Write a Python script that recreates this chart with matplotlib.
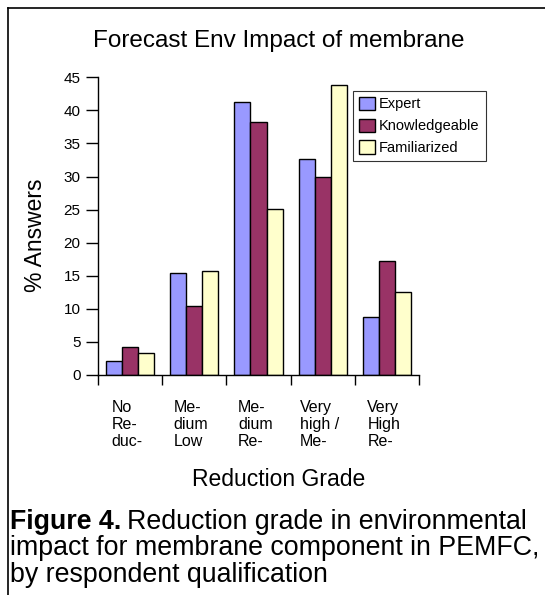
import matplotlib
matplotlib.use("Agg")
import matplotlib.pyplot as plt
import numpy as np
from matplotlib.lines import Line2D

plt.rcParams['font.family'] = ['Liberation Sans', 'DejaVu Sans']

categories = ["No\nRe-\nduc-", "Me-\ndium\nLow", "Me-\ndium\nRe-", "Very\nhigh /\nMe-", "Very\nHigh\nRe-"]
series_names = ["Expert", "Knowledgeable", "Familiarized"]
expert = [2.1, 15.4, 41.3, 32.6, 8.7]
knowledgeable = [4.3, 10.5, 38.3, 29.9, 17.2]
familiarized = [3.3, 15.7, 25.1, 43.8, 12.6]
colors = ["#9999FF", "#993366", "#FFFFCC"]
yticks = [0, 5, 10, 15, 20, 25, 30, 35, 40, 45]

W, H = 545, 595
fig = plt.figure(figsize=(W / 100, H / 100), dpi=100)

# Frame lines along the top and left edge
fig.add_artist(Line2D([8 / W, 1], [1 - 8 / H, 1 - 8 / H], color="black", lw=1.2))
fig.add_artist(Line2D([8 / W, 8 / W], [0, 1 - 8 / H], color="black", lw=1.2))

ax = fig.add_axes([98 / W, 1 - 375 / H, (419 - 98) / W, (375 - 77.3) / H])

x = np.arange(len(categories))
bw = 0.25
for i, (vals, name, c) in enumerate(zip([expert, knowledgeable, familiarized], series_names, colors)):
    ax.bar(x + (i - 1) * bw, vals, width=bw, color=c, edgecolor="black", linewidth=1.0, label=name, zorder=2)

ax.set_xlim(-0.5, len(categories) - 0.5)
ax.set_ylim(0, 45)
ax.set_yticks(yticks)
ax.set_yticklabels([str(v) for v in yticks], fontsize=11)
ax.set_xticks(np.arange(len(categories) + 1) - 0.5)
ax.set_xticklabels([])
ax.tick_params(axis="y", direction="out", length=8.6, width=1, pad=4)
ax.tick_params(axis="x", direction="out", length=7.2, width=1)
for c, lab in zip(x, categories):
    ax.text(c - 0.05, -0.083, lab, transform=ax.get_xaxis_transform(), ha="center", va="top",
            multialignment="left", fontsize=11.5, linespacing=1.17)
for s in ["top", "right"]:
    ax.spines[s].set_visible(False)
ax.spines["left"].set_linewidth(1)
ax.spines["bottom"].set_linewidth(1)

fig.text(279 / W, 1 - 41 / H, "Forecast Env Impact of membrane", ha="center", va="center", fontsize=17.5)
fig.text(36 / W, 1 - 235 / H, "% Answers", ha="center", va="center", rotation=90, fontsize=16.5)
fig.text(279 / W, 1 - 479 / H, "Reduction Grade", ha="center", va="center", fontsize=16.5)

leg = ax.legend(loc="upper left", bbox_to_anchor=(353 / W, 1 - 91 / H), bbox_transform=fig.transFigure,
                fontsize=10.5, frameon=True, fancybox=False, edgecolor="black", handlelength=1.1,
                handleheight=1.0, handletextpad=0.3, borderpad=0.4, labelspacing=0.5, borderaxespad=0)
leg.get_frame().set_linewidth(0.8)

# Caption: bold lead-in followed by regular text on the same line
cap_size = 19.3
lead = fig.text(10 / W, 1 - 522 / H, "Figure 4.", ha="left", va="center", fontsize=cap_size, fontweight="bold")
fig.canvas.draw()
lead_end = lead.get_window_extent().x1
fig.text((lead_end + 6) / W, 1 - 522 / H, "Reduction grade in environmental", ha="left", va="center", fontsize=cap_size)
fig.text(10 / W, 1 - 548 / H, "impact for membrane component in PEMFC,", ha="left", va="center", fontsize=cap_size)
fig.text(10 / W, 1 - 575 / H, "by respondent qualification", ha="left", va="center", fontsize=cap_size)

fig.savefig("out.png", dpi=100, facecolor="white")
